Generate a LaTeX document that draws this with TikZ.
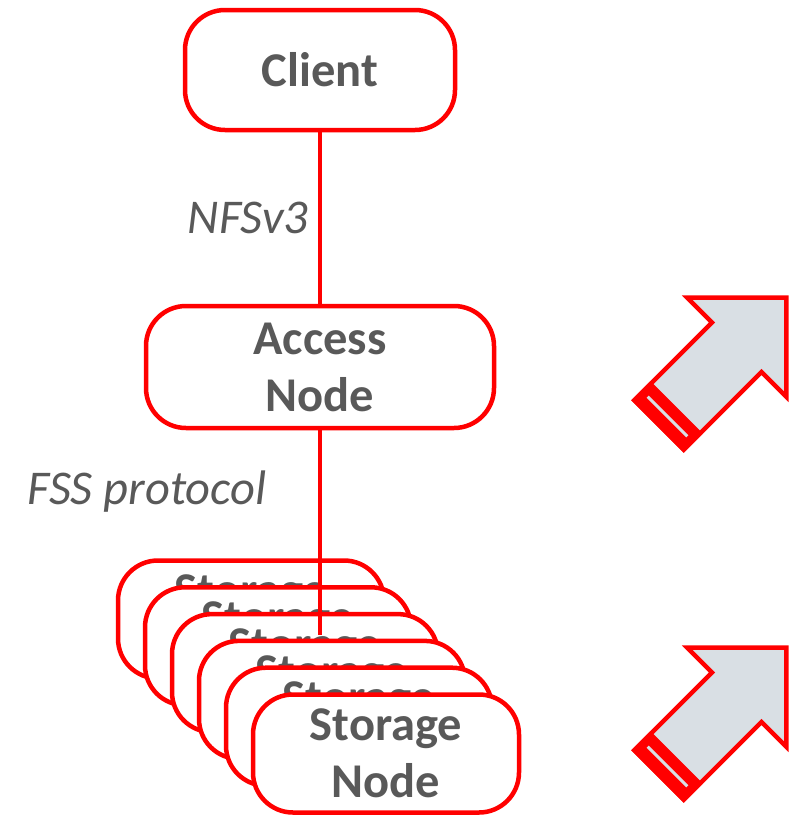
\documentclass[tikz,border=0pt]{standalone}
\usepackage{fontspec}
\setmainfont{Carlito}
\definecolor{boxred}{HTML}{FF0000}
\definecolor{txtgray}{HTML}{595959}
\definecolor{arrowfill}{HTML}{D9DFE4}
\begin{document}
\begin{tikzpicture}[x=1pt,y=-1pt,
  nodebox/.style={draw=boxred, line width=4.5pt, fill=white, rounded corners=40pt,
    text=txtgray, align=center, inner sep=0pt,
    font=\bfseries\fontsize{48.5}{57}\selectfont},
  lbl/.style={text=txtgray, font=\itshape\fontsize{48.5}{56}\selectfont, inner sep=0pt},
  conn/.style={draw=boxred, line width=4.5pt}
]
\useasboundingbox (0,0) rectangle (794,815);

\node[nodebox, minimum width=270pt, minimum height=120pt] (client) at (320,70) {Client};
\node[nodebox, minimum width=348pt, minimum height=122pt] (access) at (320,367) {Access\\Node};

\foreach \i in {0,...,5}{
  \node[nodebox, minimum width=266pt, minimum height=118pt] (st\i) at ({251+27*\i},{619.5+26.8*\i}) {Storage\\Node};
}

\coordinate (lineend) at (320,635);
\draw[conn] (client.south) -- (access.north);
\draw[conn] (access.south) -- (lineend);

\node[lbl] (nfs) at (248,218) {NFSv3};
\node[lbl] (fss) at (147,492) {FSS protocol};

\foreach \dy/\nm in {0/a, 350/b}{
\begin{scope}[shift={(659,{425+\dy})}, rotate=45]
  \filldraw[fill=arrowfill, draw=boxred, line width=4.5pt, line join=miter]
    (0,-35) -- (110,-35) -- (110,-70) -- (180,0) -- (110,70) -- (110,35) -- (0,35) -- cycle;
  \fill[boxred] (-2,-37) rectangle (25,37);
  \draw[arrowfill, line width=3pt] (12,-28) -- (12,28);
\end{scope}
}
\end{tikzpicture}
\end{document}
